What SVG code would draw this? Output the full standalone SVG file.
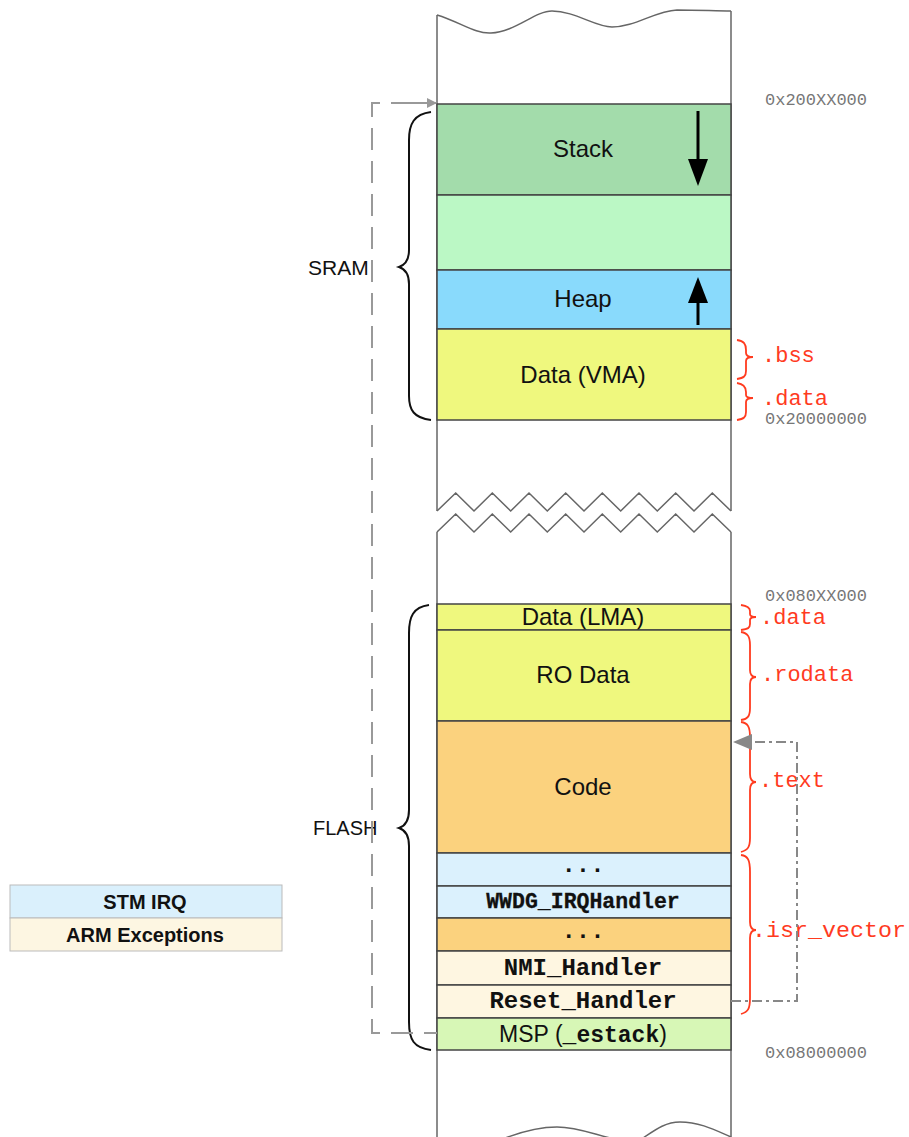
<svg xmlns="http://www.w3.org/2000/svg" width="909" height="1137" viewBox="0 0 909 1137">
<defs>
<style>
.cell{stroke:#444;stroke-width:1.5}
.lbl{font-family:"Liberation Sans",Arial,sans-serif;font-size:24px;fill:#111;text-anchor:middle}
.mono{font-family:"Liberation Mono","Courier New",monospace;font-weight:bold;fill:#111;text-anchor:middle}
.addr{font-family:"Liberation Mono","Courier New",monospace;font-size:17px;fill:#777}
.sec{font-family:"Liberation Mono","Courier New",monospace;font-size:22px;fill:#ff3b1f}
.rbrace{fill:none;stroke:#ff3b1f;stroke-width:1.8}
.kbrace{fill:none;stroke:#111;stroke-width:2}
.outline{fill:none;stroke:#666;stroke-width:1.5}
.side{font-family:"Liberation Sans",Arial,sans-serif;font-size:21px;fill:#111}
.leg{font-family:"Liberation Sans",Arial,sans-serif;font-size:20px;font-weight:bold;fill:#111;text-anchor:middle}
</style>
<marker id="garrow" markerWidth="10" markerHeight="10" refX="9" refY="5" orient="auto" markerUnits="userSpaceOnUse">
<path d="M0,0 L10,5 L0,10 Z" fill="#999"/>
</marker>
</defs>
<rect width="909" height="1137" fill="#fff"/>

<g id="column">
<path class="outline" d="M437,15 C460,22 475,34 491,33 C515,32 535,11 552,11 C575,11 595,27 612,27 C635,27 655,11 677,10 C700,10 715,11 731,11"/>
<line class="outline" x1="437" y1="15" x2="437" y2="511"/>
<line class="outline" x1="731" y1="11" x2="731" y2="511"/>
<path class="outline" d="M437,511 L455.7,493 L474,511 L492.3,493 L510.7,511 L529,493 L547.3,511 L565.7,493 L584,511 L602.3,493 L620.7,511 L639,493 L657.3,511 L675.7,493 L694,511 L712.3,493 L731,511"/>
<path class="outline" d="M437,532 L455.7,514 L474,532 L492.3,514 L510.7,532 L529,514 L547.3,532 L565.7,514 L584,532 L602.3,514 L620.7,532 L639,514 L657.3,532 L675.7,514 L694,532 L712.3,514 L731,532"/>
<line class="outline" x1="437" y1="532" x2="437" y2="1137"/>
<line class="outline" x1="731" y1="532" x2="731" y2="1137"/>
<path class="outline" d="M500,1140 C520,1132 540,1127 557,1127 C580,1127 600,1137 620,1140 M640,1140 C655,1130 665,1122 680,1122 C700,1122 715,1130 731,1137"/>
</g>

<g id="sram">
<g id="stack"><rect class="cell" x="437" y="104" width="294" height="91" fill="#a3dcab"/><text class="lbl" x="583" y="157">Stack</text>
<line x1="698" y1="111" x2="698" y2="165" stroke="#000" stroke-width="3"/><path d="M688,159 L708,159 L698,186 Z" fill="#000"/></g>
<g id="free"><rect class="cell" x="437" y="195" width="294" height="75" fill="#bbf8c5"/></g>
<g id="heap"><rect class="cell" x="437" y="270" width="294" height="59" fill="#89dafc"/><text class="lbl" x="583" y="307">Heap</text>
<line x1="698" y1="300" x2="698" y2="325" stroke="#000" stroke-width="3"/><path d="M688,303 L708,303 L698,277 Z" fill="#000"/></g>
<g id="data-vma"><rect class="cell" x="437" y="329" width="294" height="91" fill="#eff87e"/><text class="lbl" x="583" y="383">Data (VMA)</text></g>
</g>

<g id="flash">
<g id="data-lma"><rect class="cell" x="437" y="604" width="294" height="26" fill="#eff87e"/><text class="lbl" x="583" y="625">Data (LMA)</text></g>
<g id="rodata"><rect class="cell" x="437" y="630" width="294" height="91" fill="#eff87e"/><text class="lbl" x="583" y="683">RO Data</text></g>
<g id="code"><rect class="cell" x="437" y="721" width="294" height="132" fill="#fbd27e"/><text class="lbl" x="583" y="795">Code</text></g>
<g id="dots1"><rect class="cell" x="437" y="853" width="294" height="33" fill="#dbf1fd"/><text class="mono" x="583" y="872" font-size="24">...</text></g>
<g id="wwdg"><rect class="cell" x="437" y="886" width="294" height="32" fill="#dbf1fd"/><text class="mono" x="583" y="908" font-size="21.5" font-weight="normal" stroke="#111" stroke-width="0.3">WWDG_IRQHandler</text></g>
<g id="dots2"><rect class="cell" x="437" y="918" width="294" height="33" fill="#fbd27e"/><text class="mono" x="583" y="938" font-size="24">...</text></g>
<g id="nmi"><rect class="cell" x="437" y="951" width="294" height="34" fill="#fef6e1"/><text class="mono" x="583" y="975" font-size="24">NMI_Handler</text></g>
<g id="reset"><rect class="cell" x="437" y="985" width="294" height="33" fill="#fef6e1"/><text class="mono" x="583" y="1008" font-size="24">Reset_Handler</text></g>
<g id="msp"><rect class="cell" x="437" y="1018" width="294" height="32" fill="#d7f7b6"/><text class="lbl" x="583" y="1042" style="font-size:23px">MSP (<tspan font-family="Liberation Mono,Courier New,monospace" font-weight="bold">_estack</tspan>)</text></g>
</g>

<g id="addresses">
<text class="addr" x="765" y="105">0x200XX000</text>
<text class="addr" x="765" y="424">0x20000000</text>
<text class="addr" x="765" y="601">0x080XX000</text>
<text class="addr" x="765" y="1058">0x08000000</text>
</g>

<g id="region-braces">
<path class="kbrace" d="M431,112 C414,114 409,124 409,140 L409,250 C409,260 405,265 399,267 C405,269 409,274 409,284 L409,396 C409,410 414,418 431,420"/>
<text class="side" x="308" y="275">SRAM</text>
<path class="kbrace" d="M429,605 C413,607 409,617 409,633 L409,810 C409,820 405,826 399,828 C405,830 409,836 409,846 L409,1022 C409,1040 414,1048 431,1050"/>
<text class="side" x="313" y="835" style="font-size:20px">FLASH</text>
</g>

<g id="section-braces">
<path class="rbrace" d="M737,340 C744,341 746,344 746,350 L746,353 C746,356 749,357 753,357 C749,357 746,358 746,361 L746,371 C746,376 744,378 737,379"/>
<text class="sec" x="762" y="362">.bss</text>
<path class="rbrace" d="M737,383 C744,384 746,387 746,392 L746,395 C746,397 749,398 753,398 C749,398 746,399 746,402 L746,412 C746,417 744,419 737,420"/>
<text class="sec" x="762" y="405">.data</text>
<path class="rbrace" d="M741,605 C748,606 750,608 750,611 L750,614 C750,616 752,617 756,617 C752,617 750,618 750,620 L750,624 C750,628 748,629 741,630"/>
<text class="sec" x="760" y="624">.data</text>
<path class="rbrace" d="M741,632 C748,633 750,637 750,645 L750,670 C750,675 752,677 756,677 C752,677 750,679 750,684 L750,708 C750,716 748,719 741,720"/>
<text class="sec" x="761" y="681">.rodata</text>
<path class="rbrace" d="M741,722 C748,723 750,727 750,737 L750,774 C750,779 752,782 756,782 C752,782 750,785 750,790 L750,838 C750,847 748,850 741,852"/>
<text class="sec" x="759" y="787">.text</text>
<path class="rbrace" d="M741,855 C748,856 750,860 750,872 L750,922 C750,927 752,930 756,930 C752,930 750,933 750,938 L750,998 C750,1009 748,1012 741,1014"/>
<text class="sec" x="752" y="937" textLength="154" lengthAdjust="spacingAndGlyphs">.isr_vector</text>
</g>

<g id="connectors">
<path d="M380,103 L372,103 L372,1033 L437,1033" fill="none" stroke="#999" stroke-width="2" stroke-dasharray="22,11"/>
<line x1="391" y1="103" x2="436" y2="103" stroke="#999" stroke-width="2" marker-end="url(#garrow)"/>
<path d="M731,1001 L797,1001 L797,742 L736,742" fill="none" stroke="#888" stroke-width="2" stroke-dasharray="10,4,3,4"/>
<path d="M733,742 L752,734 L752,750 Z" fill="#888"/>
</g>

<g id="legend">
<g id="legend-stm"><rect x="10" y="885" width="272" height="33" fill="#daf0fc" stroke="#bbb" stroke-width="1"/><text class="leg" x="145" y="909">STM IRQ</text></g>
<g id="legend-arm"><rect x="10" y="918" width="272" height="33" fill="#fdf6e2" stroke="#bbb" stroke-width="1"/><text class="leg" x="145" y="942">ARM Exceptions</text></g>
</g>
</svg>
